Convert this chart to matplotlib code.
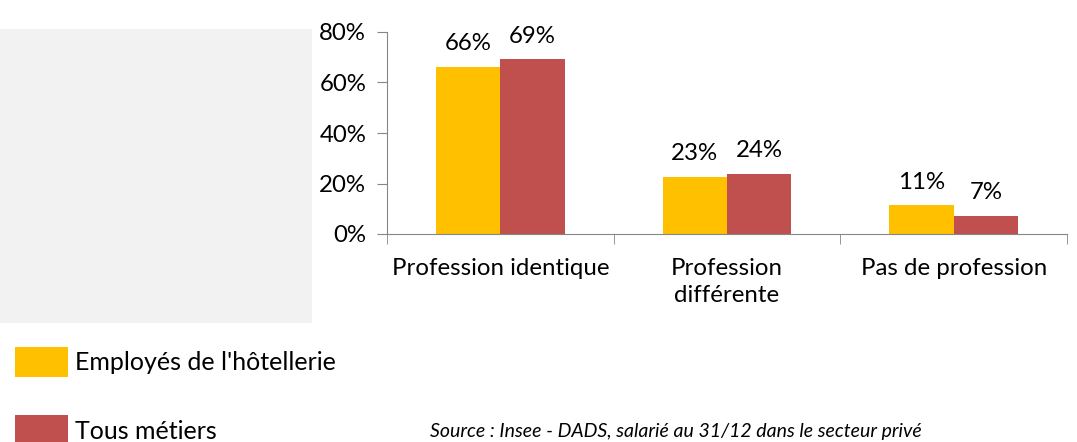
import matplotlib
matplotlib.use("Agg")
import matplotlib.pyplot as plt
import matplotlib.patches as mpatches
import numpy as np

categories = ["Profession identique", "Profession\ndifférente", "Pas de profession"]
series_names = ["Employés de l'hôtellerie", "Tous métiers"]
hotellerie = [66.3, 22.7, 11.3]
tous_metiers = [69.3, 23.8, 7.2]
labels_hot = ["66%", "23%", "11%"]
labels_tous = ["69%", "24%", "7%"]
yticks = [0, 20, 40, 60, 80]

W, H = 1077, 442
fig = plt.figure(figsize=(W / 100, H / 100), dpi=100)

# grey panel on the left
fig.add_artist(mpatches.Rectangle((0, 1 - 323 / H), 312 / W, (323 - 29) / H,
                                  transform=fig.transFigure, color="#f2f2f2", lw=0, zorder=0))

ax = fig.add_axes([387 / W, 1 - 234 / H, 680 / W, 202 / H])
x = np.arange(len(categories))
bw = 0.284
b1 = ax.bar(x - bw / 2, hotellerie, bw, color="#FFC000", label=series_names[0])
b2 = ax.bar(x + bw / 2, tous_metiers, bw, color="#C0504D", label=series_names[1])

font = "Lato"
fs = 17.3
for bars, labs in ((b1, labels_hot), (b2, labels_tous)):
    for r, lab in zip(bars, labs):
        ax.annotate(lab, (r.get_x() + r.get_width() / 2, r.get_height()),
                    xytext=(0, 9), textcoords="offset points", ha="center", va="bottom",
                    fontsize=fs, family=font)

ax.set_xlim(-0.5, 2.5)
ax.set_ylim(0, 80)
ax.set_yticks(yticks)
ax.set_yticklabels([f"{v}%" for v in yticks], fontsize=fs, family=font)
ax.set_xticks(x)
ax.set_xticklabels(categories, fontsize=fs, family=font, linespacing=1.4, va="top")
ax.set_xticks([-0.5, 0.5, 1.5, 2.5], minor=True)
ax.tick_params(axis="x", which="major", length=0, pad=17)
ax.tick_params(axis="x", which="minor", length=7, color="#868686", direction="out")
ax.tick_params(axis="y", length=7, color="#868686", pad=8)
for s in ("top", "right"):
    ax.spines[s].set_visible(False)
for s in ("left", "bottom"):
    ax.spines[s].set_color("#868686")

fig.legend(handles=[b1, b2], labels=series_names, loc="upper left",
           bbox_to_anchor=(5 / W, 1 - 337 / H), frameon=False,
           prop={"family": font, "size": 18}, handlelength=2.1, handleheight=1.45,
           labelspacing=1.55, handletextpad=0.3, borderaxespad=0)

fig.text(430 / W, 1 - 432 / H, "Source : Insee - DADS, salarié au 31/12 dans le secteur privé",
         fontsize=14, style="italic", family=font, va="center")

fig.savefig("out.png", dpi=100)
